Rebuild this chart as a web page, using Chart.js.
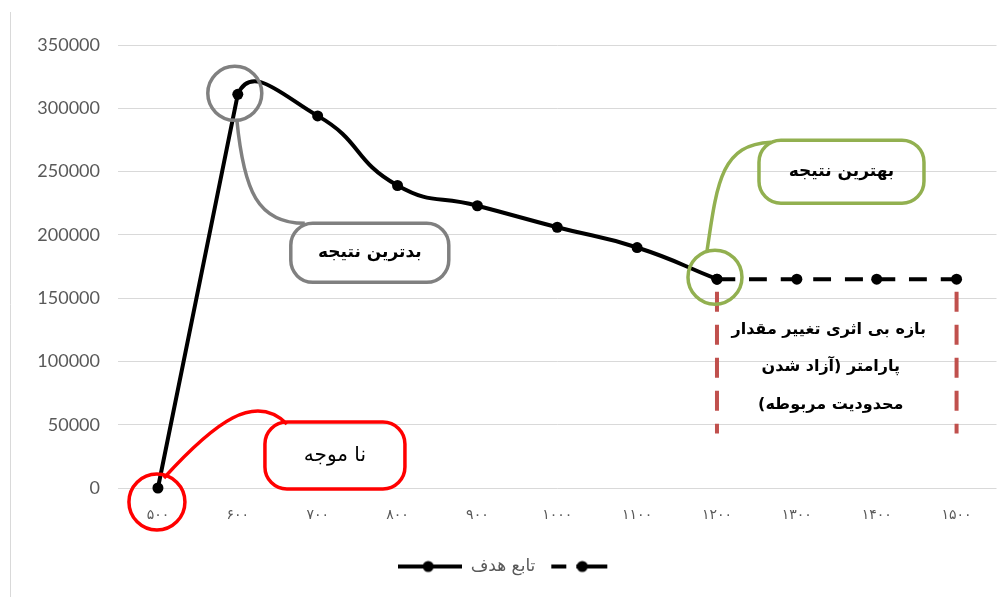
<!DOCTYPE html>
<html lang="fa">
<head>
<meta charset="utf-8">
<title>تابع هدف</title>
<script src="https://cdn.jsdelivr.net/npm/chart.js"></script>
<style>
  html, body { margin: 0; padding: 0; background: #fff; }
  #wrap { width: 1002px; height: 597px; position: relative; }
</style>
</head>
<body>
<div id="wrap"><canvas id="grafico" width="1002" height="597"></canvas></div>
<script>
// مقادیر پارامتر و تابع هدف
const categorias = [500, 600, 700, 800, 900, 1000, 1100, 1200, 1300, 1400, 1500];
const etiquetasX = ['۵۰۰', '۶۰۰', '۷۰۰', '۸۰۰', '۹۰۰', '۱۰۰۰', '۱۱۰۰', '۱۲۰۰', '۱۳۰۰', '۱۴۰۰', '۱۵۰۰'];
const serieSolida = [0, 311000, 294000, 239000, 223000, 206000, 190000, 165000, null, null, null];
const serieDiscontinua = [null, null, null, null, null, null, null, 165000, 165000, 165000, 165000];
const ticksY = [0, 50000, 100000, 150000, 200000, 250000, 300000, 350000];

const gris = '#595959';
const fontPersa = '"DejaVu Sans", sans-serif';

// iconos de la leyenda: línea con marcador
function iconoLeyenda(tramos, puntoX) {
    const c = document.createElement('canvas');
    c.width = 64;
    c.height = 16;
    const g = c.getContext('2d');
    g.strokeStyle = '#000';
    g.fillStyle = '#000';
    g.lineWidth = 4;
    tramos.forEach(([a, b]) => {
        g.beginPath();
        g.moveTo(a, 8);
        g.lineTo(b, 8);
        g.stroke();
    });
    g.beginPath();
    g.arc(puntoX, 8, 5.5, 0, Math.PI * 2);
    g.fill();
    return c;
}
const iconos = [
    iconoLeyenda([[0, 64]], 30),
    iconoLeyenda([[4, 19], [29, 60]], 35)
];

// círculo + caja redondeada + conector curvo
function llamada(ctx, p, o) {
    ctx.save();
    ctx.strokeStyle = o.color;
    ctx.lineWidth = 3.5;
    ctx.beginPath();
    ctx.arc(p.x + o.c[0], p.y + o.c[1], o.r, 0, Math.PI * 2);
    ctx.stroke();
    const [x1, y1, x2, y2] = o.caja;
    ctx.beginPath();
    ctx.roundRect(p.x + x1, p.y + y1, x2 - x1, y2 - y1, 22);
    ctx.stroke();
    const k = o.curva;
    ctx.beginPath();
    ctx.moveTo(p.x + k[0], p.y + k[1]);
    ctx.bezierCurveTo(p.x + k[2], p.y + k[3], p.x + k[4], p.y + k[5], p.x + k[6], p.y + k[7]);
    ctx.stroke();
    ctx.fillStyle = '#000';
    ctx.font = o.font;
    ctx.direction = 'rtl';
    ctx.textAlign = 'center';
    ctx.textBaseline = 'middle';
    ctx.fillText(o.texto, p.x + (x1 + x2) / 2, p.y + (y1 + y2) / 2);
    ctx.restore();
}

const anotaciones = {
    id: 'anotaciones',
    beforeDraw(chart) {
        const ctx = chart.ctx;
        ctx.save();
        ctx.strokeStyle = '#d9d9d9';
        ctx.lineWidth = 1;
        ctx.beginPath();
        ctx.moveTo(10.5, 12);
        ctx.lineTo(10.5, 597);
        ctx.stroke();
        ctx.restore();
    },
    beforeDatasetDraw(chart, args) {
        // tramo 500-600 casi recto, como en el suavizado original
        if (args.index !== 0) return;
        const meta = args.meta;
        meta.dataset.updateControlPoints(chart.chartArea, 'x');
        const [p0, p1] = meta.data;
        p0.cp2x = p0.x + (p1.x - p0.x) * 0.3;
        p0.cp2y = p0.y + (p1.y - p0.y) * 0.3;
        p1.cp1x = p1.x - (p1.x - p0.x) * 0.2;
        p1.cp1y = p1.y - (p1.y - p0.y) * 0.2;
    },
    afterDraw(chart) {
        const ctx = chart.ctx;
        const pts = chart.getDatasetMeta(0).data;
        const fin = chart.getDatasetMeta(1).data[10];
        const y = chart.scales.y;

        // بازه بی اثری
        ctx.save();
        ctx.strokeStyle = '#c0504d';
        ctx.lineWidth = 4;
        ctx.setLineDash([20, 13]);
        [pts[7].x, fin.x].forEach(x => {
            ctx.beginPath();
            ctx.moveTo(x, y.getPixelForValue(155000));
            ctx.lineTo(x, y.getPixelForValue(43000));
            ctx.stroke();
        });
        ctx.restore();

        const xm = (pts[7].x + fin.x) / 2;
        ctx.save();
        ctx.fillStyle = '#000';
        ctx.font = 'bold 16px ' + fontPersa;
        ctx.direction = 'rtl';
        ctx.textAlign = 'center';
        ctx.textBaseline = 'middle';
        ctx.fillText('بازه بی اثری تغییر مقدار', xm - 8, 330);
        ctx.fillText('پارامتر (آزاد شدن', xm - 6, 367);
        ctx.fillText('محدودیت مربوطه)', xm - 6, 405);
        ctx.restore();

        llamada(ctx, pts[1], {
            color: '#808080', c: [-3, -1], r: 27,
            caja: [53, 129, 211, 188],
            curva: [-1, 25, 6, 97, 20, 129, 67, 129],
            texto: 'بدترین نتیجه', font: 'bold 17px ' + fontPersa
        });
        llamada(ctx, pts[7], {
            color: '#92b050', c: [-2, -2], r: 27,
            caja: [42, -139, 207, -76],
            curva: [-10, -28, 0, -96, 4, -135, 54, -137],
            texto: 'بهترین نتیجه', font: 'bold 17px ' + fontPersa
        });
        llamada(ctx, pts[0], {
            color: '#ff0000', c: [-1, 14], r: 28,
            caja: [107, -66, 247, 1],
            curva: [6, -10, 57, -66, 97, -96, 129, -64],
            texto: 'نا موجه', font: '20px ' + fontPersa
        });
    }
};

const config = {
    type: 'line',
    data: {
        labels: categorias,
        datasets: [{
            label: 'تابع هدف',
            data: serieSolida,
            borderColor: '#000',
            backgroundColor: '#000',
            borderWidth: 4,
            pointRadius: 5.5,
            pointBackgroundColor: '#000',
            pointBorderWidth: 0,
            tension: 0.5,
            clip: false
        }, {
            label: '',
            data: serieDiscontinua,
            borderColor: '#000',
            backgroundColor: '#000',
            borderWidth: 4,
            borderDash: [18, 14],
            pointRadius: 5.5,
            pointBackgroundColor: '#000',
            pointBorderWidth: 0,
            tension: 0.5,
            clip: false
        }]
    },
    options: {
        responsive: false,
        animation: false,
        layout: { padding: { top: 45, right: 4, left: 20, bottom: 12 } },
        plugins: {
            tooltip: { enabled: false },
            legend: {
                position: 'bottom',
                labels: {
                    usePointStyle: true,
                    pointStyleWidth: 64,
                    padding: 12,
                    color: gris,
                    font: { family: fontPersa, size: 17 },
                    generateLabels(chart) {
                        const items = Chart.defaults.plugins.legend.labels.generateLabels(chart);
                        items.forEach((it, i) => { it.pointStyle = iconos[i]; });
                        return items;
                    }
                }
            }
        },
        scales: {
            x: {
                offset: true,
                grid: { display: false, drawTicks: false },
                border: { display: false },
                ticks: {
                    padding: 19,
                    color: gris,
                    font: { family: fontPersa, size: 14 },
                    maxRotation: 0,
                    callback: (v, i) => etiquetasX[i]
                },
                afterFit(scale) { scale.height = 58; }
            },
            y: {
                min: 0,
                max: 350000,
                afterBuildTicks(scale) { scale.ticks = ticksY.map(v => ({ value: v })); },
                grid: { color: '#d9d9d9', lineWidth: 1, drawTicks: false },
                border: { display: false },
                ticks: {
                    padding: 18,
                    color: gris,
                    font: { family: 'Lato, sans-serif', size: 18 },
                    callback: v => String(v)
                },
                afterFit(scale) { scale.width = 98; }
            }
        }
    },
    plugins: [anotaciones]
};

new Chart(document.getElementById('grafico'), config);
</script>
</body>
</html>
